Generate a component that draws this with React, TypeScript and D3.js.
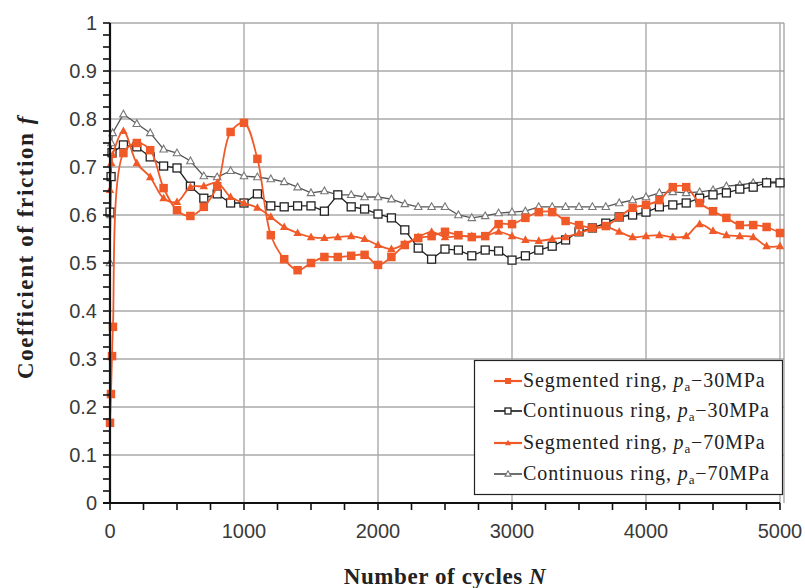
import React from "react";
import * as d3 from "d3";

const cycles = [0,100,200,300,400,500,600,700,800,900,1000,1100,1200,1300,1400,1500,1600,1700,1800,1900,2000,2100,2200,2300,2400,2500,2600,2700,2800,2900,3000,3100,3200,3300,3400,3500,3600,3700,3800,3900,4000,4100,4200,4300,4400,4500,4600,4700,4800,4900,5000];

const seg30Early = [[0,0.167],[7,0.227],[15,0.306],[22,0.367]];
const seg30 = [0.167,0.729,0.75,0.735,0.656,0.61,0.598,0.617,0.66,0.773,0.792,0.717,0.558,0.508,0.485,0.5,0.5125,0.5125,0.515,0.517,0.496,0.5125,0.5375,0.552,0.556,0.565,0.558,0.554,0.556,0.581,0.581,0.594,0.606,0.606,0.5875,0.579,0.573,0.577,0.596,0.615,0.621,0.631,0.658,0.658,0.625,0.608,0.594,0.579,0.579,0.575,0.5625];

const cont30Early = [[0,0.606],[8,0.68],[15,0.73]];
const cont30 = [0.606,0.746,0.742,0.721,0.702,0.698,0.66,0.635,0.644,0.625,0.625,0.644,0.619,0.617,0.619,0.619,0.608,0.642,0.617,0.6125,0.602,0.594,0.569,0.531,0.508,0.529,0.527,0.515,0.527,0.525,0.506,0.515,0.527,0.535,0.548,0.565,0.573,0.583,0.596,0.6,0.606,0.617,0.621,0.625,0.635,0.642,0.646,0.654,0.658,0.667,0.667];

const seg70Early = [[0,0.652],[10,0.708],[20,0.725]];
const seg70 = [0.652,0.775,0.708,0.679,0.635,0.627,0.658,0.66,0.667,0.6375,0.625,0.615,0.596,0.575,0.5625,0.554,0.552,0.554,0.556,0.55,0.5375,0.529,0.54,0.554,0.565,0.554,0.556,0.556,0.556,0.565,0.556,0.548,0.546,0.55,0.554,0.5625,0.571,0.575,0.565,0.554,0.556,0.558,0.554,0.556,0.581,0.567,0.558,0.556,0.554,0.535,0.535];

const cont70Early = [[0,0.5],[5,0.6],[10,0.75],[20,0.771]];
const cont70 = [0.5,0.81,0.79,0.771,0.737,0.729,0.7125,0.681,0.679,0.692,0.681,0.679,0.675,0.669,0.658,0.646,0.65,0.642,0.642,0.6375,0.6375,0.633,0.623,0.617,0.617,0.617,0.6,0.594,0.598,0.604,0.606,0.608,0.617,0.617,0.617,0.617,0.617,0.617,0.625,0.631,0.6375,0.646,0.648,0.646,0.648,0.652,0.66,0.6625,0.667,0.669,0.669];

const xTicks = [0,1000,2000,3000,4000,5000];
const yTicks = [0,0.1,0.2,0.3,0.4,0.5,0.6,0.7,0.8,0.9,1];

const legendLabels = [
  { name: "Segmented ring, ", p: "30MPa" },
  { name: "Continuous ring, ", p: "30MPa" },
  { name: "Segmented ring, ", p: "70MPa" },
  { name: "Continuous ring, ", p: "70MPa" },
];

const ORANGE = "#f05a28";

function build(early: number[][], vals: number[]): [number, number][] {
  const pts: [number, number][] = early.map((d) => [d[0], d[1]] as [number, number]);
  for (let i = 1; i < cycles.length; i++) pts.push([cycles[i], vals[i]]);
  return pts;
}

function Marker({ kind, x, y, s }: { kind: number; x: number; y: number; s: number }) {
  if (kind === 0) return <rect x={x - s / 2} y={y - s / 2} width={s} height={s} fill={ORANGE} />;
  if (kind === 1) return <rect x={x - s / 2} y={y - s / 2} width={s} height={s} fill="#fff" stroke="#222" strokeWidth={1.3} />;
  const h = s * 0.9;
  const pts = `${x},${y - h * 0.6} ${x - s / 2},${y + h * 0.4} ${x + s / 2},${y + h * 0.4}`;
  if (kind === 2) return <polygon points={pts} fill={ORANGE} />;
  return <polygon points={pts} fill="#fff" stroke="#777" strokeWidth={1.1} />;
}

export default function App() {
  const W = 805, H = 588;
  const x = d3.scaleLinear().domain([0, 5000]).range([110, 780]);
  const y = d3.scaleLinear().domain([0, 1]).range([503, 23]);

  const series = [
    { pts: build(cont70Early, cont70), kind: 3, color: "#555", curve: d3.curveLinear, size: 7.5, width: 1.3 },
    { pts: build(cont30Early, cont30), kind: 1, color: "#222", curve: d3.curveLinear, size: 8, width: 1.3 },
    { pts: build(seg70Early, seg70), kind: 2, color: ORANGE, curve: d3.curveCatmullRom, size: 8.5, width: 1.8 },
    { pts: build(seg30Early, seg30), kind: 0, color: ORANGE, curve: d3.curveCatmullRom, size: 8.5, width: 1.8 },
  ];

  const minorX = d3.range(0, 5001, 250);
  const minorY = d3.range(0, 41).map((i) => i * 0.025);
  const legendOrder = [3, 1, 2, 0];
  const legendRows = [381, 411, 443, 474];

  return (
    <svg width={W} height={H} style={{ position: "absolute", left: 0, top: 0 }}>
      <rect width={W} height={H} fill="#fff" />
      {/* grid */}
      {yTicks.slice(1).map((t) => (
        <line key={"gy" + t} x1={110} x2={784} y1={y(t)} y2={y(t)} stroke="#aaa" strokeWidth={1.4} />
      ))}
      {xTicks.slice(1).map((t) => (
        <line key={"gx" + t} x1={x(t)} x2={x(t)} y1={23} y2={503} stroke="#aaa" strokeWidth={1.4} />
      ))}
      <line x1={784} x2={784} y1={23} y2={503} stroke="#999" strokeWidth={1.2} />
      {/* series */}
      {series.map((s, i) => {
        const gen = d3.line<[number, number]>().x((d) => x(d[0])).y((d) => y(d[1])).curve(s.curve);
        return (
          <g key={"s" + i}>
            <path d={gen(s.pts) || ""} fill="none" stroke={s.color} strokeWidth={s.width} />
            {s.pts.map((p, j) => (
              <Marker key={j} kind={s.kind} x={x(p[0])} y={y(p[1])} s={s.size} />
            ))}
          </g>
        );
      })}
      {/* axes */}
      <line x1={110} x2={110} y1={23} y2={504} stroke="#111" strokeWidth={2.2} />
      <line x1={103} x2={780} y1={503} y2={503} stroke="#111" strokeWidth={2.2} />
      {minorY.map((t, i) => (
        <line key={"ty" + i} x1={103} x2={110} y1={y(t)} y2={y(t)} stroke="#111" strokeWidth={1.6} />
      ))}
      {minorX.map((t) => (
        <line key={"tx" + t} x1={x(t)} x2={x(t)} y1={503} y2={510} stroke="#111" strokeWidth={1.6} />
      ))}
      {yTicks.map((t) => (
        <text key={"ly" + t} x={97} y={y(t) + 7} textAnchor="end" fontFamily="Liberation Sans, Arial, sans-serif" fontSize={20} fill="#3a3a3a">
          {t === 0 || t === 1 ? String(t) : t.toFixed(1)}
        </text>
      ))}
      {xTicks.map((t) => (
        <text key={"lx" + t} x={x(t)} y={538} textAnchor="middle" fontFamily="Liberation Sans, Arial, sans-serif" fontSize={20} fill="#3a3a3a">
          {t}
        </text>
      ))}
      {/* axis titles */}
      <text transform="translate(33,247) rotate(-90)" textAnchor="middle" fontFamily="Liberation Serif, Times New Roman, serif" fontWeight="bold" fontSize={23} letterSpacing={1.6} fill="#222">
        Coefficient of friction <tspan fontStyle="italic">f</tspan>
      </text>
      <text x={445} y={584} textAnchor="middle" fontFamily="Liberation Serif, Times New Roman, serif" fontWeight="bold" fontSize={23} letterSpacing={0.6} fill="#222">
        Number of cycles <tspan fontStyle="italic">N</tspan>
      </text>
      {/* legend */}
      <rect x={474.5} y={360.5} width={308} height={134} fill="#fff" stroke="#222" strokeWidth={1.2} />
      {legendOrder.map((si, r) => {
        const s = series[si];
        const cy = legendRows[r];
        const lab = legendLabels[r];
        return (
          <g key={"lg" + r}>
            <line x1={494} x2={522} y1={cy} y2={cy} stroke={s.color} strokeWidth={s.width + 0.4} />
            <Marker kind={s.kind} x={508} y={cy} s={6} />
            <text x={523} y={cy + 6} fontFamily="Liberation Serif, Times New Roman, serif" fontSize={20} letterSpacing={0.9} fill="#222">
              {lab.name}
              <tspan fontStyle="italic">p</tspan>
              <tspan fontSize={13} dy={4}>a</tspan>
              <tspan dy={-4}>{"\u2212" + lab.p}</tspan>
            </text>
          </g>
        );
      })}
    </svg>
  );
}
